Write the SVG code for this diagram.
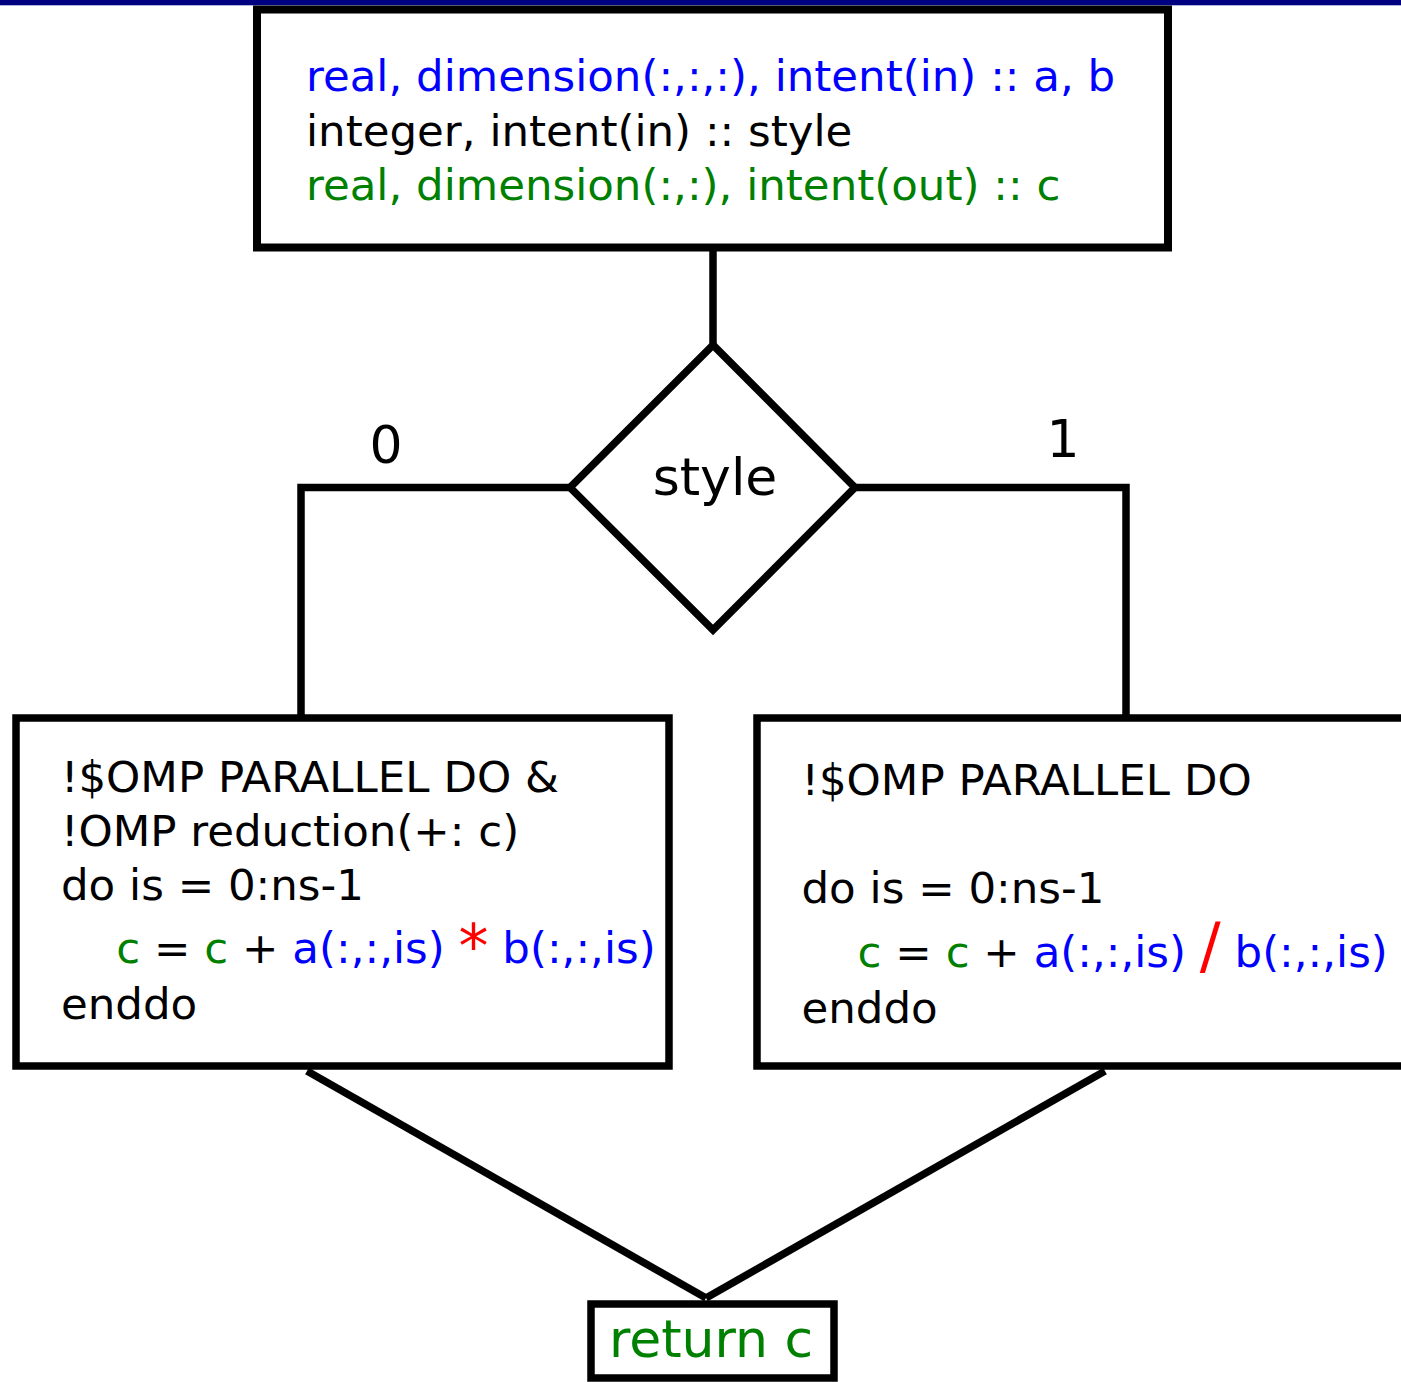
<svg xmlns="http://www.w3.org/2000/svg" width="1401" height="1382" viewBox="0 0 1401 1382">
  <style>
    .box { fill: #ffffff; stroke: #000000; stroke-width: 7.5; }
    .wire { fill: none; stroke: #000000; stroke-width: 7.5; }
    text { font-family: "DejaVu Sans", "Liberation Sans", sans-serif; fill: #000000; }
    .code { font-size: 43.5px; }
    .big { font-size: 52px; }
    .in { fill: #0000ff; }
    .out { fill: #008000; }
    .op { fill: #ff0000; }
  </style>

  <rect width="1401" height="1382" fill="#ffffff"/>
  <!-- header rule -->
  <rect x="0" y="0" width="1401" height="5.3" fill="#000080"/>

  <!-- connectors -->
  <g id="connectors">
    <line class="wire" x1="713" y1="248" x2="713" y2="345"/>
    <polyline class="wire" points="570,487.5 301,487.5 301,718"/>
    <polyline class="wire" points="855,487.5 1126,487.5 1126,718"/>
    <line class="wire" x1="307" y1="1071" x2="706" y2="1298"/>
    <line class="wire" x1="1105" y1="1071" x2="706" y2="1298"/>
    <text class="big" x="386" y="463" text-anchor="middle">0</text>
    <text class="big" x="1063" y="457" text-anchor="middle">1</text>
  </g>

  <!-- argument declarations -->
  <g id="declarations">
    <rect class="box" x="257" y="9.5" width="911" height="238" style="stroke-width:8"/>
    <text class="code in" x="306" y="91">real, dimension(:,:,:), intent(in) :: a, b</text>
    <text class="code" x="306" y="146">integer, intent(in) :: style</text>
    <text class="code out" x="306" y="200">real, dimension(:,:), intent(out) :: c</text>
  </g>

  <!-- branch on style -->
  <g id="decision">
    <polygon class="box" points="713,345 855,487.5 713,630 570,487.5"/>
    <text class="big" x="715" y="495" text-anchor="middle">style</text>
  </g>

  <!-- style = 0: product with reduction -->
  <g id="branch-product">
    <rect class="box" x="16" y="718" width="653" height="348"/>
    <text class="code" x="61" y="792">!$OMP PARALLEL DO &amp;</text>
    <text class="code" x="61" y="846">!OMP reduction(+: c)</text>
    <text class="code" x="61" y="900">do is = 0:ns-1</text>
    <text class="code" x="116.3" y="963"><tspan class="out">c</tspan> = <tspan class="out">c</tspan> + <tspan class="in">a(:,:,is)</tspan> <tspan class="op" style="font-size:60px" dy="4">*</tspan><tspan dy="-4"> </tspan><tspan class="in">b(:,:,is)</tspan></text>
    <text class="code" x="61" y="1019">enddo</text>
  </g>

  <!-- style = 1: quotient -->
  <g id="branch-quotient">
    <rect class="box" x="757" y="718" width="700" height="348"/>
    <text class="code" x="801.5" y="795">!$OMP PARALLEL DO</text>
    <text class="code" x="801.5" y="903">do is = 0:ns-1</text>
    <text class="code" x="857.6" y="967"><tspan class="out">c</tspan> = <tspan class="out">c</tspan> + <tspan class="in">a(:,:,is)</tspan> <tspan class="op" style="font-size:62px">/</tspan> <tspan class="in">b(:,:,is)</tspan></text>
    <text class="code" x="801.5" y="1023">enddo</text>
  </g>

  <!-- result -->
  <g id="return">
    <rect class="box" x="591" y="1304" width="243" height="74"/>
    <text class="big out" x="711" y="1357" text-anchor="middle">return c</text>
  </g>
</svg>
